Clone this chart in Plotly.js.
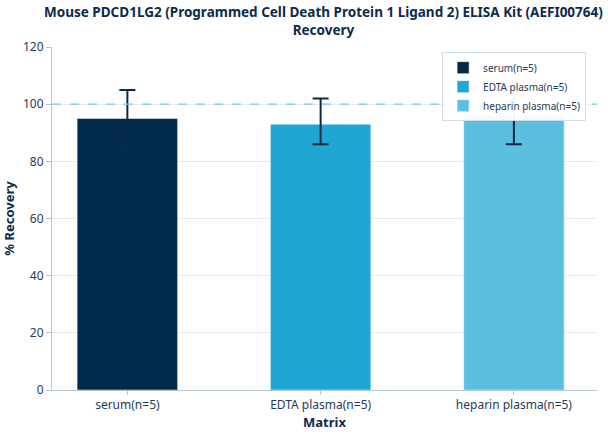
<!DOCTYPE html>
<html>
<head>
<meta charset="utf-8">
<script src="https://cdn.plot.ly/plotly-3.0.1.min.js"></script>
<style>html,body{margin:0;padding:0;background:#fff;}#chart{width:608px;height:435px;}</style>
</head>
<body>
<div id="chart"></div>
<script>
const categories = ["serum(n=5)", "EDTA plasma(n=5)", "heparin plasma(n=5)"];
const recovery = [95, 93, 96];
const errPlus = [10, 9, 10];
const errMinus = [10, 7, 10];
const colors = ["#022b4b", "#1fa6d3", "#5bbfe0"];
const yTicks = [0, 20, 40, 60, 80, 100, 120];
const refLine = 100;

const traces = categories.map((c, i) => ({
  type: "bar",
  name: c,
  x: [c],
  y: [recovery[i]],
  width: 0.52,
  marker: {color: colors[i], line: {color: "rgba(255,255,255,0.5)", width: 1}},
  error_y: {type: "data", symmetric: false, array: [errPlus[i]], arrayminus: [errMinus[i]],
            color: "#0d2b45", thickness: 2, width: 8},
  showlegend: true
}));

const layout = {
  width: 608, height: 435,
  margin: {l: 52, r: 11, t: 47, b: 45},
  paper_bgcolor: "#fff", plot_bgcolor: "#fff",
  font: {family: "Noto Sans, Open Sans, sans-serif", color: "#1f3b57", size: 12},
  title: {text: "<b>Mouse PDCD1LG2 (Programmed Cell Death Protein 1 Ligand 2) ELISA Kit (AEFI00764)<br>Recovery</b>",
          font: {size: 13.5, color: "#0d2b4a"}, x: 0.532, xanchor: "center", xref: "container",
          y: 0.96, yanchor: "middle"},
  barmode: "overlay",
  xaxis: {
    categoryorder: "array", categoryarray: categories,
    range: [-0.39, 2.43],
    title: {text: "<b>Matrix</b>", font: {size: 13, color: "#0d2b4a"}, standoff: 0},
    showline: true, linecolor: "#b4c6d2", linewidth: 1,
    ticks: "outside", ticklen: 4, tickcolor: "#b4c6d2",
    showgrid: false, zeroline: false
  },
  yaxis: {
    range: [0, 120], tickvals: yTicks,
    title: {text: "<b>% Recovery</b>", font: {size: 13, color: "#0d2b4a"}, standoff: 8},
    showline: true, linecolor: "#b4c6d2", linewidth: 1,
    ticks: "outside", ticklen: 5, tickcolor: "#b4c6d2",
    showgrid: true, gridcolor: "#e4ebf0", zeroline: false
  },
  shapes: [{type: "line", xref: "paper", x0: 0, x1: 1, yref: "y", y0: refLine, y1: refLine,
            line: {color: "#7cc8e6", width: 1.2, dash: "dash"}, layer: "above"}],
  legend: {x: 0.98, xanchor: "right", y: 0.985, yanchor: "top",
           bgcolor: "rgba(255,255,255,0.95)", bordercolor: "#d3dde5", borderwidth: 1,
           font: {size: 10, color: "#1f3b57"}, tracegroupgap: 0}
};

Plotly.newPlot("chart", traces, layout, {displayModeBar: false, staticPlot: true});
</script>
</body>
</html>
